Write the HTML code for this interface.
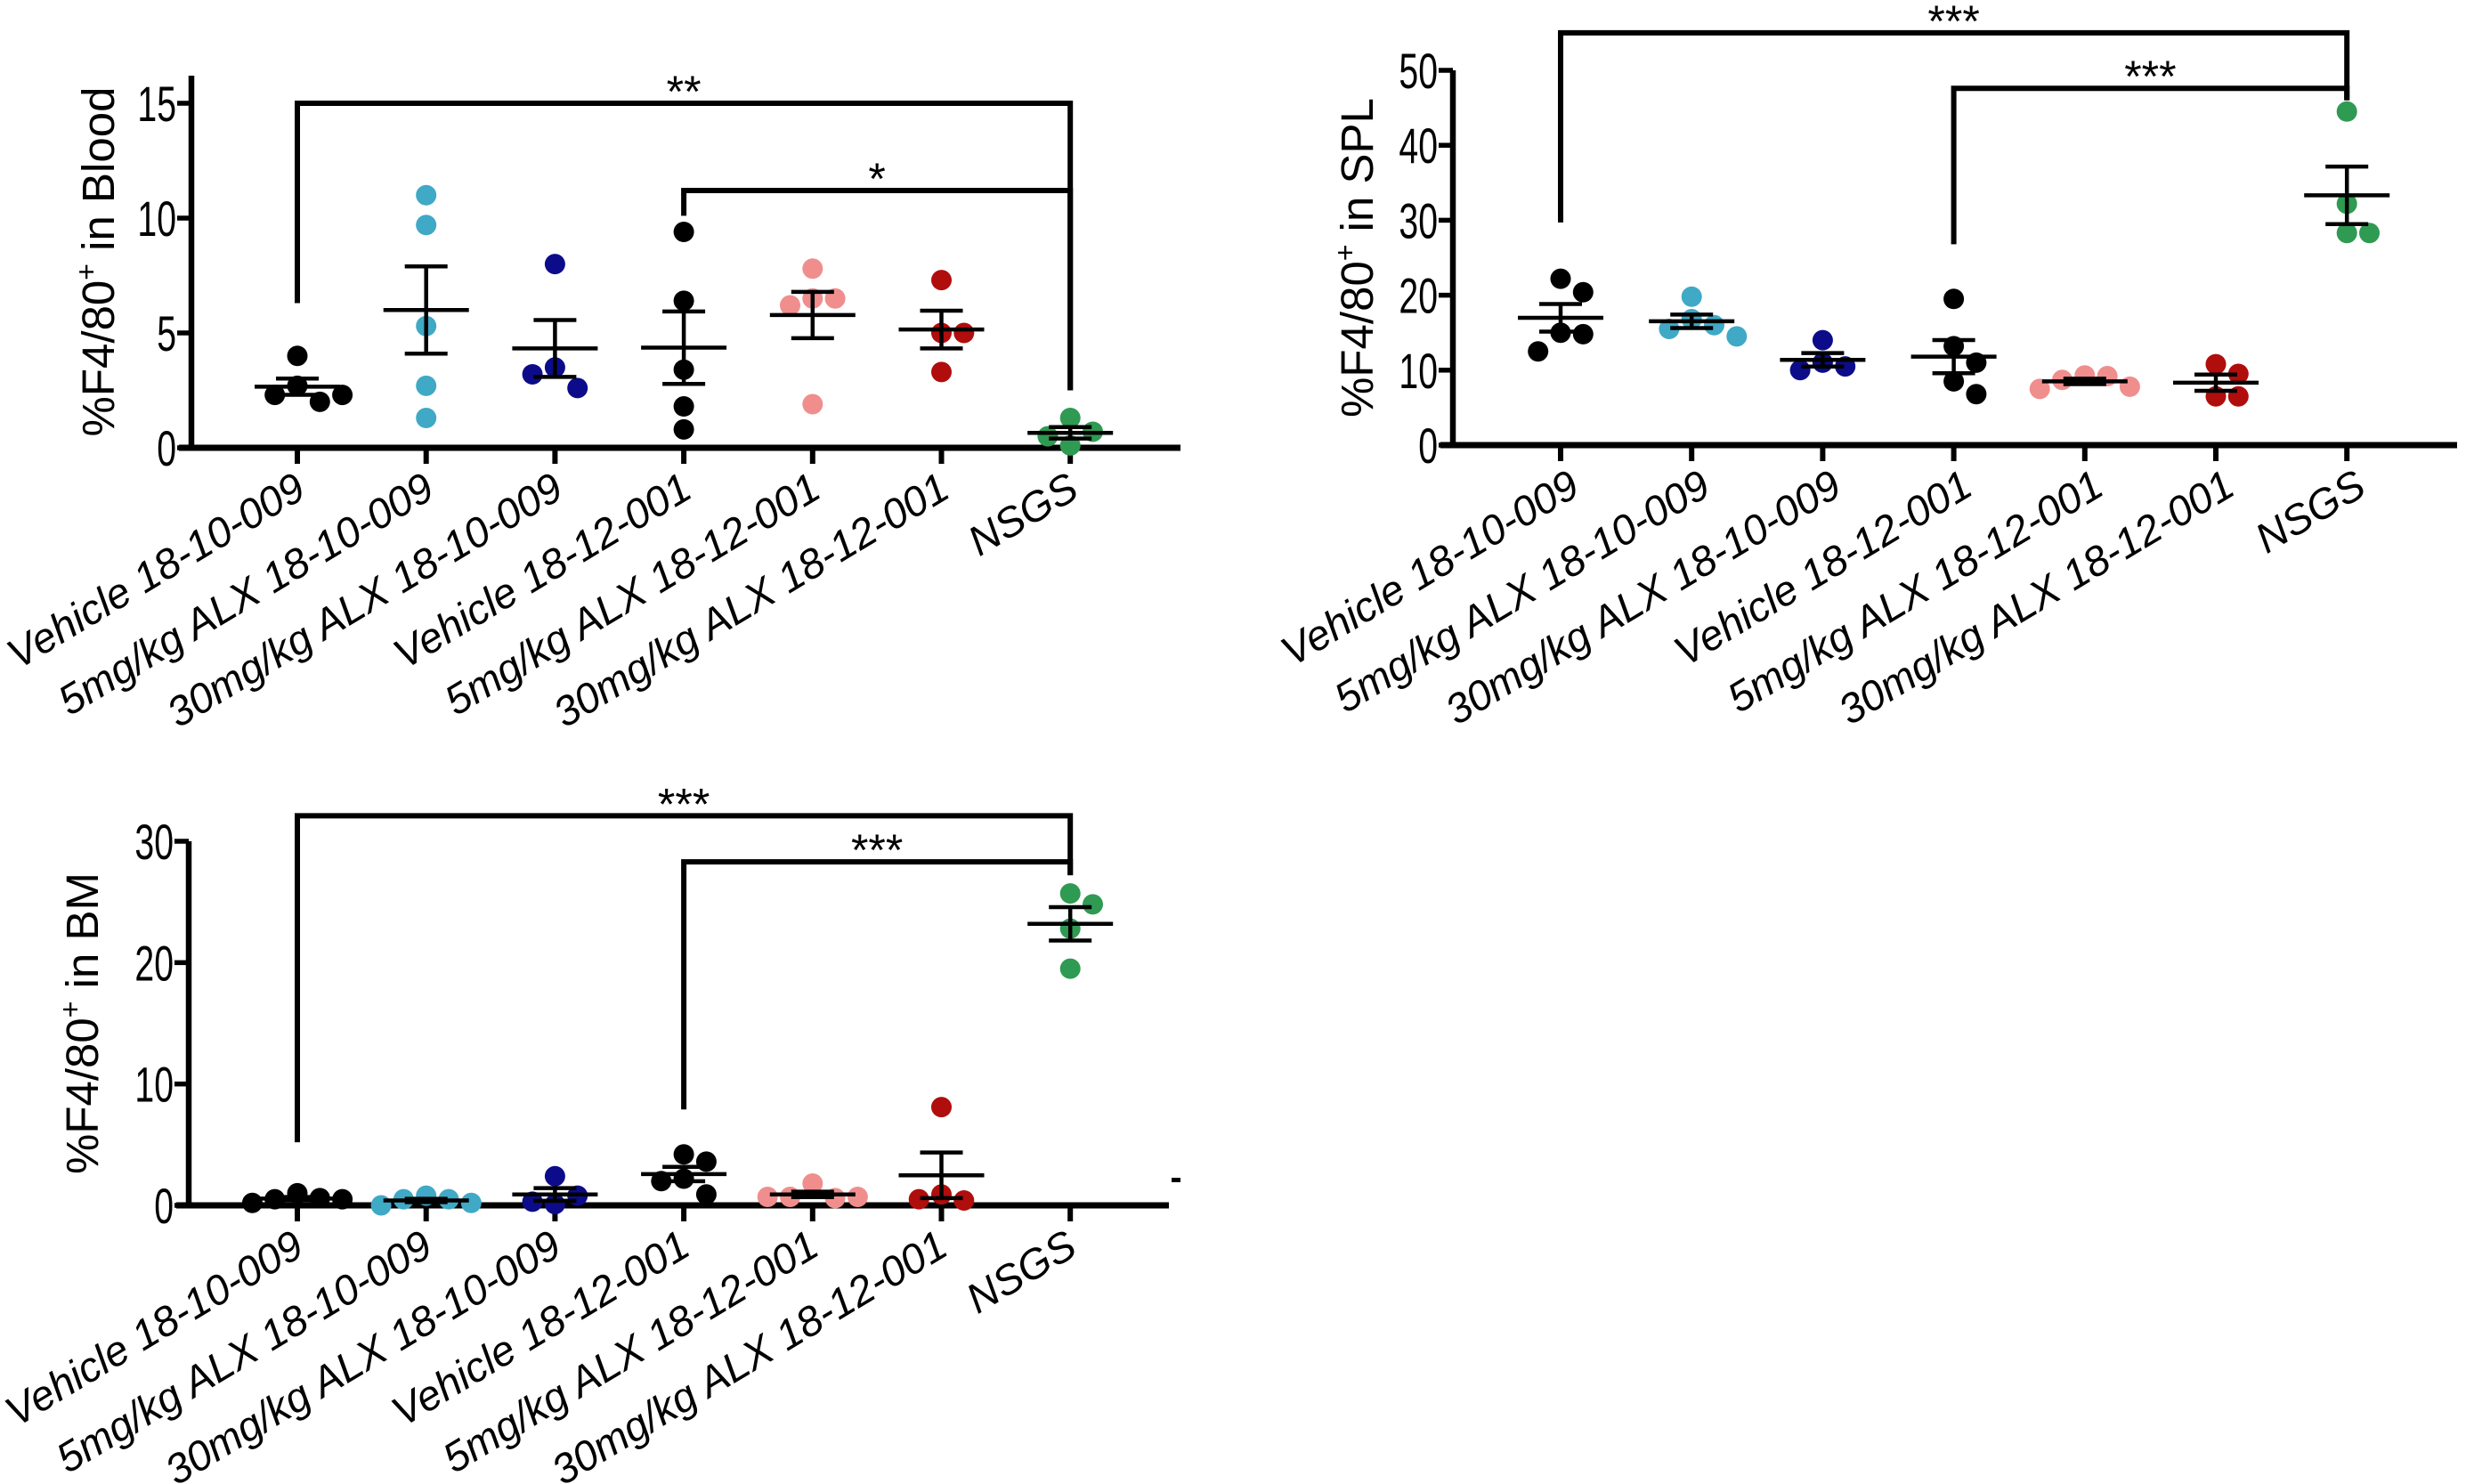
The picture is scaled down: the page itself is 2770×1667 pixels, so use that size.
<!DOCTYPE html>
<html><head><meta charset="utf-8"><style>
html,body{margin:0;padding:0;background:#fff;}
svg{display:block;}
.tick{font-family:"Liberation Sans Narrow","Liberation Sans",sans-serif;font-size:56px;fill:#000;}
.ytitle{font-family:"Liberation Sans",sans-serif;font-size:51px;fill:#000;}
.xlab{font-family:"Liberation Sans",sans-serif;font-style:italic;font-size:47px;fill:#000;}
.sig{font-family:"Liberation Sans",sans-serif;font-size:50px;fill:#000;}
</style></head><body>
<svg id="fig" width="2770" height="1667" viewBox="0 0 2770 1667" xmlns="http://www.w3.org/2000/svg"></svg>
<script>
const categories = ["Vehicle 18-10-009","5mg/kg ALX 18-10-009","30mg/kg ALX 18-10-009","Vehicle 18-12-001","5mg/kg ALX 18-12-001","30mg/kg ALX 18-12-001","NSGS"];
const colors = ["#000000","#3fa9c6","#0c0c8a","#000000","#f08e8e","#b00d0d","#2f9a52"];
const bloodValues = [[4.0,2.7,2.0,2.3,2.3],[11.0,9.7,5.3,2.7,1.3],[8.0,3.5,2.6,3.2],[9.4,6.4,3.4,1.8,0.8],[7.8,6.5,6.5,6.2,1.9],[7.3,5.0,5.0,3.3],[1.3,0.7,0.5,0.1]];
const splValues = [[22.2,20.4,15.0,14.8,12.5],[19.8,16.8,16.0,15.5,14.5],[14.0,11.0,10.5,10.0],[19.5,13.2,11.0,8.5,6.8],[9.3,9.2,8.7,7.8,7.5],[10.8,9.5,6.5,6.5],[44.5,32.2,28.3,28.3]];
const bmValues = [[1.0,0.6,0.5,0.5,0.2],[0.8,0.5,0.5,0.2,0.0],[2.4,0.8,0.1,0.3],[4.2,3.6,2.2,2.0,0.9],[1.8,0.6,0.7,0.7,0.7],[8.1,0.9,0.4,0.5],[25.7,24.8,22.8,19.5]];
const bloodTicks = [0,5,10,15];
const splTicks = [0,10,20,30,40,50];
const bmTicks = [0,10,20,30];
// brackets: [fromCat, toCat, barValue, leftEndValue, rightEndValue, label]
const bloodSig = [[0,6,15,6.3,2.5,"**"],[3,6,11.2,10.1,2.5,"*"]];
const splSig = [[0,6,55,29.7,46,"***"],[3,6,47.6,26.8,46,"***"]];
const bmSig = [[0,6,32.1,5.2,27.2,"***"],[3,6,28.3,7.9,27.2,"***"]];

const NS="http://www.w3.org/2000/svg";
const svg=document.getElementById('fig');
function mk(tag,attrs,parent){const e=document.createElementNS(NS,tag);for(const k in attrs)e.setAttribute(k,attrs[k]);(parent||svg).appendChild(e);return e;}

function panel(cfg){
  const g=mk('g',{});
  
  
  const y=v=>cfg.y0-(v-cfg.ymin)/(cfg.ymax-cfg.ymin)*(cfg.y0-cfg.y1);
  const x=i=>cfg.x0+i*cfg.dx;
  const ya=mk('line',{x1:cfg.ax,y1:cfg.axTop,x2:cfg.ax,y2:cfg.y0+3,stroke:'#000','stroke-width':6.5},g);
  
  
  const xa=mk('line',{x1:cfg.ax-14,y1:cfg.y0,x2:cfg.axRight,y2:cfg.y0,stroke:'#000','stroke-width':7},g);
  
  
  cfg.ticks.forEach(t=>{
    mk('line',{x1:cfg.ax-16,y1:y(t),x2:cfg.ax,y2:y(t),stroke:'#000','stroke-width':5.5},g);
    const tx=mk('text',{x:0,y:0,'text-anchor':'end',class:'tick',transform:`translate(${cfg.ax-17},${y(t)+20}) scale(0.7,1)`},g);
    tx.textContent=t;
    
    
  });
  const yt=mk('text',{x:0,y:0,'text-anchor':'middle',class:'ytitle',transform:`translate(${cfg.titleX},${(cfg.y0+cfg.axTop)/2}) rotate(-90)`},g);
  yt.innerHTML='%F4/80<tspan dy="-20" font-size="32">+</tspan><tspan dy="20"> in '+cfg.tissue+'</tspan>';
  
  
  categories.forEach((c,i)=>{
    mk('line',{x1:x(i),y1:cfg.y0,x2:x(i),y2:cfg.y0+18,stroke:'#000','stroke-width':6},g);
    const lb=mk('text',{x:0,y:0,'text-anchor':'end',class:'xlab',transform:`translate(${x(i)+cfg.labDx},${cfg.y0+54}) rotate(-31)`},g);
    lb.textContent=c;
    
    
    const vals=cfg.data[i];
    const r=11.5, placed=[];
    vals.forEach(v=>{
      const py=y(v);let off=0;
      for(let k=0;k<20;k++){
        const cand=k===0?0:(k%2?1:-1)*Math.ceil(k/2)*r*2.2;
        if(placed.every(p=>Math.hypot(p[0]-cand,p[1]-py)>=2*r+1)){off=cand;break;}
      }
      placed.push([off,py]);
      const dot=mk('circle',{cx:x(i)+off,cy:py,r:r,fill:colors[i]},g);
      
      
    });
    const n=vals.length,m=vals.reduce((a,b)=>a+b,0)/n;
    const sd=Math.sqrt(vals.reduce((a,b)=>a+(b-m)*(b-m),0)/(n-1)),se=sd/Math.sqrt(n);
    const eb=mk('g',{stroke:'#000','stroke-width':4.5},g);
    
    
    mk('line',{x1:x(i)-48,y1:y(m),x2:x(i)+48,y2:y(m)},eb);
    mk('line',{x1:x(i),y1:y(m-se),x2:x(i),y2:y(m+se)},eb);
    mk('line',{x1:x(i)-24,y1:y(m-se),x2:x(i)+24,y2:y(m-se)},eb);
    mk('line',{x1:x(i)-24,y1:y(m+se),x2:x(i)+24,y2:y(m+se)},eb);
  });
  cfg.sig.forEach(s=>{
    const bg=mk('g',{},g);
    
    
    mk('polyline',{points:`${x(s[0])},${y(s[3])} ${x(s[0])},${y(s[2])} ${x(s[1])},${y(s[2])} ${x(s[1])},${y(s[4])}`,fill:'none',stroke:'#000','stroke-width':6},bg);
    const st=mk('text',{x:(x(s[0])+x(s[1]))/2,y:y(s[2])+4,'text-anchor':'middle',class:'sig'},bg);
    st.textContent=s[5];
  });
}
panel({name:'blood-chart',tissue:'Blood',data:bloodValues,ticks:bloodTicks,sig:bloodSig,ymin:0,ymax:15,y0:503,y1:116,ax:215,axTop:85,axRight:1326,x0:334,dx:144.7,titleX:128,labDx:12});
panel({name:'spl-chart',tissue:'SPL',data:splValues,ticks:splTicks,sig:splSig,ymin:0,ymax:50,y0:500,y1:79,ax:1632,axTop:79,axRight:2760,x0:1753,dx:147.2,titleX:1542,labDx:24});
panel({name:'bm-chart',tissue:'BM',data:bmValues,ticks:bmTicks,sig:bmSig,ymin:0,ymax:30,y0:1354,y1:945,ax:212,axTop:945,axRight:1313,x0:334,dx:144.7,titleX:110,labDx:10});
const dash=mk('rect',{x:1316,y:1323,width:10,height:5,fill:'#000'});


</script>
</body></html>
